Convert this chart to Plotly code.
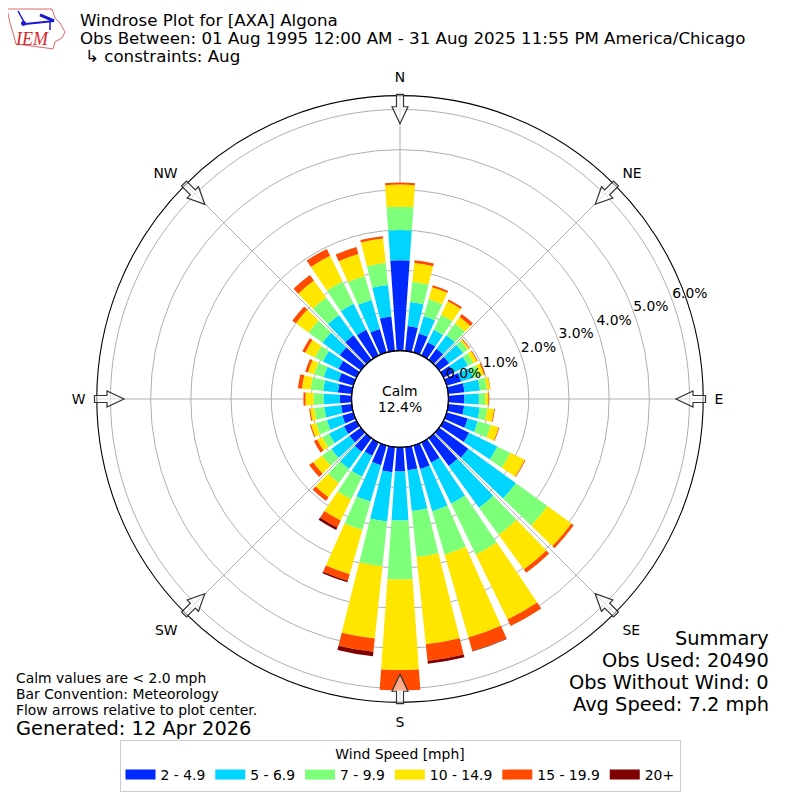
import math
import plotly.graph_objects as go

directions = list(range(0, 360, 10))
compass_vals = [0, 45, 90, 135, 180, 225, 270, 315]
compass_text = ["N", "NE", "E", "SE", "S", "SW", "W", "NW"]
percent_vals = [0, 1, 2, 3, 4, 5, 6]
percent_text = ["0.0%", "1.0%", "2.0%", "3.0%", "4.0%", "5.0%", "6.0%"]
# where the percent labels sit, they do not follow a straight ray exactly
percent_angles = [62.4, 66.6, 67.5, 68, 68.5, 68.5, 69]
percent_radii = [.085, 1.04, 2.05, 3.05, 4.05, 5.03, 6.05]

speed_names = ["2 - 4.9", "5 - 6.9", "7 - 9.9", "10 - 14.9", "15 - 19.9", "20+"]
speed_colors = ["#0029ff", "#00d5ff", "#7dff7a", "#ffe600", "#ff4a00", "#7f0000"]

speed_2_5 = [2.25, .62, .49, .37, .34, .31, .28, .38, .41, .40, .40, .55,
             .71, .90, .86, .56, .61, .58, .60, .63, .51, .37, .42, .35,
             .35, .29, .27, .29, .35, .39, .50, .65, .76, .71, .61, .86]
speed_5_7 = [.75, .60, .45, .34, .42, .43, .40, .31, .39, .36, .39, .26,
             .78, 1.46, 1.28, 1.13, 1.09, 1.02, 1.22, 1.23, .94, .58, .53, .56,
             .41, .40, .42, .41, .37, .38, .43, .53, .62, .72, .75, .79]
speed_7_10 = [.58, .51, .44, .42, .36, .14, .15, .17, .17, .16, .19, .34,
              .36, .97, .83, 1.41, 1.12, 1.15, 1.47, 1.12, .74, .62, .43, .28,
              .19, .28, .25, .25, .31, .25, .22, .43, .54, .62, .62, .55]
speed_10_15 = [.55, .47, .31, .37, .20, .05, .10, .11, .08, .08, .17, .20,
               .40, .74, 1.07, 1.80, 2.15, 2.18, 2.25, 1.81, 1.14, .59, .44, .28,
               .14, .13, .10, .20, .22, .16, .27, .39, .52, .71, .57, .61]
speed_15_20 = [.05, .07, .05, .05, .09, .02, .02, .03, .01, .02, .02, .02,
               .02, .07, .10, .18, .35, .42, .51, .33, .17, .19, .11, .12,
               .09, .03, .03, .05, .10, .07, .08, .11, .17, .19, .18, .06]
speed_20_up = [0, 0, 0, 0, 0, 0, 0, 0, 0, 0, 0, 0,
               0, 0, 0, 0, .01, .07, 0, .11, .04, .07, 0, 0,
               0, 0, 0, 0, 0, 0, 0, 0, 0, 0, 0, 0]
speed_series = [speed_2_5, speed_5_7, speed_7_10, speed_10_15, speed_15_20, speed_20_up]

# the page has an 8px body margin, so the figure is 784 wide and everything is shifted by 8
PAGE_MARGIN = 8
FIG_SIZE = 784
CX, CY, RADIUS = 400, 400, 304
HOLE = 48.5
TEXT = "DejaVu Sans"

fig = go.Figure()
for name, color, values in zip(speed_names, speed_colors, speed_series):
    fig.add_trace(go.Barpolar(r=values, theta=directions, width=8, name=name,
                              marker=dict(color=color, line=dict(width=0)),
                              showlegend=False))

# the legend swatches come from empty line traces, bar swatches are too small
for name, color in zip(speed_names, speed_colors):
    fig.add_trace(go.Scatterpolar(r=[None], theta=[None], mode="lines", name=name,
                                  line=dict(color=color, width=10)))

fig.add_trace(go.Scatterpolar(r=percent_radii, theta=percent_angles, mode="text",
                              text=percent_text, textposition="middle right",
                              textfont=dict(family=TEXT, size=13.9, color="black"),
                              showlegend=False, hoverinfo="skip"))


def px_x(x):
    return (x - PAGE_MARGIN) / FIG_SIZE


def px_y(y):
    return 1 - (y - PAGE_MARGIN) / FIG_SIZE


def note(x, y, text, size, anchor="left", color="black", family=TEXT):
    nudge = {"left": -2, "right": 3, "center": 0}[anchor]
    fig.add_annotation(x=px_x(x + nudge), y=px_y(y), xref="paper", yref="paper", text=text,
                       showarrow=False, xanchor=anchor, yanchor="middle",
                       font=dict(family=family, size=size, color=color))


def arrow_path(bearing):
    # arrow outline, tip towards the centre, rotated to the compass bearing
    outline = [(276, 0), (293, -8), (293, -3.5), (305.5, -3.5), (305.5, 3.5), (293, 3.5), (293, 8)]
    a = math.radians(bearing)
    parts = []
    for r, side in outline:
        x = CX + r * math.sin(a) + side * math.cos(a)
        y = CY - r * math.cos(a) + side * math.sin(a)
        parts.append(f"{px_x(x):.5f},{px_y(y):.5f}")
    return "M" + "L".join(parts) + "Z"


shapes = []
for bearing in compass_vals:
    shapes.append(dict(type="path", xref="paper", yref="paper", path=arrow_path(bearing),
                       fillcolor="rgba(255,255,255,0.55)", line=dict(color="#333333", width=1.2)))

# black edge of the centre hole
shapes.append(dict(type="circle", xref="paper", yref="paper",
                   x0=px_x(CX - HOLE), x1=px_x(CX + HOLE),
                   y0=px_y(CY + HOLE), y1=px_y(CY - HOLE),
                   line=dict(color="black", width=1.1)))

# IEM logo
iowa = [(7, 9), (52, 9), (55, 18), (60, 23), (65, 32), (62, 38), (55, 42), (53, 49),
        (16, 44), (13, 33), (10, 23)]
iowa_path = "M" + "L".join(f"{px_x(x):.5f},{px_y(y):.5f}" for x, y in iowa) + "Z"
shapes.append(dict(type="path", xref="paper", yref="paper", path=iowa_path,
                   line=dict(color="#e06666", width=1)))
for x0, y0, x1, y1, w in [(25, 24, 54, 21, 2), (18, 11, 24, 22, 1.5), (40, 15, 54, 21, 3),
                          (50, 21, 50, 30, 1.5)]:
    shapes.append(dict(type="line", xref="paper", yref="paper", x0=px_x(x0), y0=px_y(y0),
                       x1=px_x(x1), y1=px_y(y1), line=dict(color="#1a1ad0", width=w)))
shapes.append(dict(type="circle", xref="paper", yref="paper", x0=px_x(21), y0=px_y(26),
                   x1=px_x(26), y1=px_y(21), fillcolor="#1a1ad0", line=dict(width=0)))
fig.update_layout(shapes=shapes)

note(15, 39, "<i>IEM</i>", 18, color="#d62728", family="Liberation Serif")
note(80, 21, "Windrose Plot for [AXA] Algona", 16.67)
note(80, 39, "Obs Between: 01 Aug 1995 12:00 AM - 31 Aug 2025 11:55 PM America/Chicago", 16.67)
note(85, 57, "↳ constraints: Aug", 16.67)
note(400, 392, "Calm", 13.9, anchor="center")
note(400, 408, "12.4%", 13.9, anchor="center")
note(16, 680, "Calm values are &lt; 2.0 mph", 13.9)
note(16, 696, "Bar Convention: Meteorology", 13.9)
note(16, 712, "Flow arrows relative to plot center.", 13.9)
note(16, 730, "Generated: 12 Apr 2026", 19.4)
note(768, 640, "Summary", 19.4, anchor="right")
note(768, 662, "Obs Used: 20490", 19.4, anchor="right")
note(768, 684, "Obs Without Wind: 0", 19.4, anchor="right")
note(768, 706, "Avg Speed: 7.2 mph", 19.4, anchor="right")

fig.update_layout(
    width=FIG_SIZE,
    height=FIG_SIZE,
    margin=dict(l=0, r=0, t=0, b=0),
    paper_bgcolor="white",
    barmode="stack",
    font=dict(family=TEXT, size=13.9, color="black"),
    legend=dict(orientation="h", x=px_x(400), xanchor="center", y=px_y(742), yanchor="top",
                bordercolor="#cccccc", borderwidth=1, itemwidth=30,
                title=dict(text="Wind Speed [mph]", side="top center", font=dict(size=13.9)),
                font=dict(size=13.9)),
    polar=dict(
        domain=dict(x=[px_x(CX - RADIUS), px_x(CX + RADIUS)],
                    y=[px_y(CY + RADIUS), px_y(CY - RADIUS)]),
        hole=HOLE / RADIUS,
        bgcolor="white",
        radialaxis=dict(range=[0, 6.34], tickvals=percent_vals[1:], showticklabels=False,
                        ticks="", showline=False, gridcolor="#b0b0b0", gridwidth=1.1),
        angularaxis=dict(rotation=90, direction="clockwise", tickmode="array",
                         tickvals=compass_vals, ticktext=compass_text, ticks="outside",
                         ticklen=8, tickcolor="rgba(0,0,0,0)", linecolor="black", linewidth=1.1,
                         gridcolor="#b0b0b0", gridwidth=1.1,
                         tickfont=dict(family=TEXT, size=13.9)),
    ),
)

fig.write_html("out.html")
